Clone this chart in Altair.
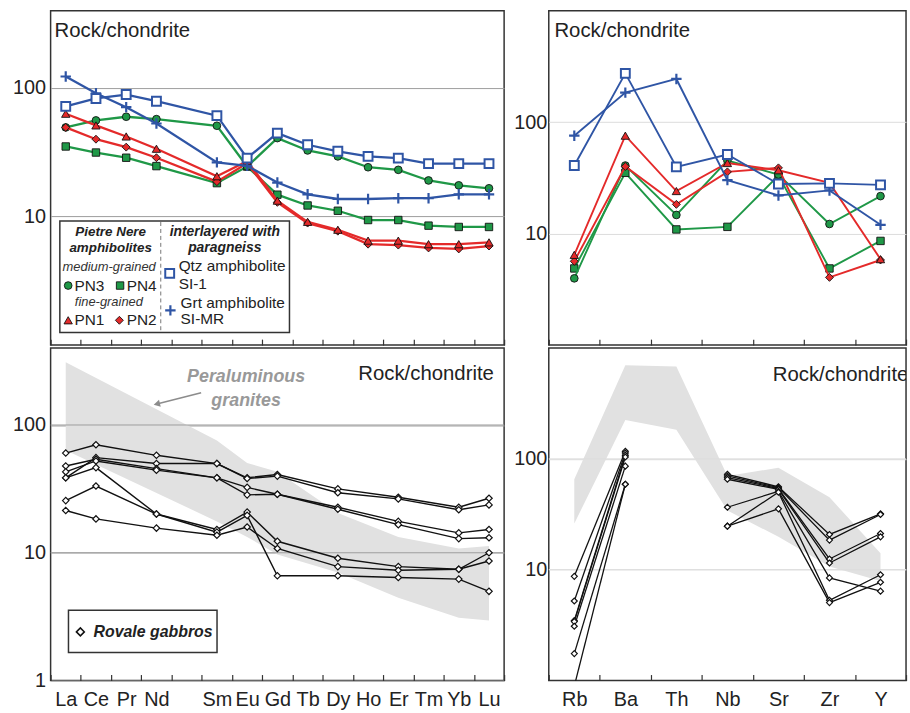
import altair as alt
import pandas as pd

FONT = "Liberation Sans"
RED = "#e42a2a"
GREEN = "#1f9847"
BLUE = "#2f55a5"
INK = "#222222"
BAND_GRAY = "#e1e1e1"

# ---------------- data ----------------
REE = ["La", "Ce", "Pr", "Nd", "Pm", "Sm", "Eu", "Gd", "Tb", "Dy", "Ho", "Er", "Tm", "Yb", "Lu"]
TRACE = ["Rb", "Ba", "Th", "Nb", "Sr", "Zr", "Y"]

# amphibolites, REE (Pm not analysed)
AMPH_REE_EL = ["La", "Ce", "Pr", "Nd", "Sm", "Eu", "Gd", "Tb", "Dy", "Ho", "Er", "Tm", "Yb", "Lu"]
qtz_ree = [72, 83, 89, 79, 61, 28.5, 44.6, 36.2, 32.2, 29.4, 28.5, 25.8, 25.8, 25.8]
grt_ree = [123, 91, 71, 53, 26.4, 24.8, 18.4, 14.9, 13.7, 13.7, 13.9, 13.9, 14.9, 14.9]
pn3_ree = [49.4, 56, 59.8, 57.3, 50.9, 24.5, 40.8, 32.7, 29.4, 24.2, 23.1, 19.1, 17.5, 16.6]
pn4_ree = [35.1, 31.5, 28.7, 24.7, 18.2, 24.5, 14.8, 12.2, 11.1, 9.4, 9.4, 8.5, 8.3, 8.3]
pn1_ree = [63.1, 51.2, 42.0, 33.7, 20.6, 27, 13.3, 9.1, 7.9, 6.5, 6.5, 6.1, 6.1, 6.3]
pn2_ree = [49.4, 40, 34.7, 28.7, 18.7, 26, 12.9, 8.9, 7.7, 6.1, 6.0, 5.7, 5.6, 5.9]

# amphibolites, trace elements
qtz_tr = [40.8, 274, 39.7, 51.2, 27.9, 28.2, 27.4]
grt_tr = [75.6, 184, 244, 30.2, 22.0, 24.4, 12.0]
pn1_tr = [6.45, 75.6, 24.1, 43, 37, 28.5, 5.9]
pn2_tr = [5.65, 40, 18.3, 35.8, 38.9, 4.05, 5.8]
pn3_tr = [3.97, 40.8, 14.7, 45.2, 33.9, 12.2, 21.7]
pn4_tr = [4.87, 35.1, 10.9, 11.5, 33.2, 4.87, 8.6]

# Rovale gabbros, REE
GAB_REE_EL = ["La", "Ce", "Nd", "Sm", "Eu", "Gd", "Dy", "Er", "Yb", "Lu"]
gab_ree = [
    [60.3, 70.0, 57.9, 49.9, 38.6, 41.0, 31.6, 27.2, 22.7, 26.7],
    [38.6, 55.5, 49.9, 49.9, 38.1, 39.8, 29.5, 26.4, 21.7, 23.7],
    [47.8, 53.9, 45.6, 38.6, 32.5, 28.7, 22.7, 17.6, 14.3, 15.2],
    [43.0, 52.3, 44.3, 38.6, 28.4, 28.7, 21.9, 16.6, 12.9, 13.1],
    [38.6, 46.4, 20.1, 15.2, 20.8, 12.3, 9.05, 7.79, 7.43, 10.0],
    [25.6, 33.3, 20.1, 14.5, 19.6, 6.6, 6.6, 6.4, 6.22, 4.99],
    [21.4, 18.4, 15.6, 13.7, 15.9, 10.8, 7.79, 7.30, 7.43, 8.62],
]

# Rovale gabbros, trace elements (Th not analysed)
GAB_TR_EL = ["Rb", "Ba", "Nb", "Sr", "Zr", "Y"]
gab_tr = [
    [8.71, 117, 72.6, 56, 20.8, 31.9],
    [5.22, 113, 70.1, 55, 18.5, 31.5],
    [3.47, 108, 67.8, 54, 12.5, 21.2],
    [3.40, 104, 65.5, 53, 11.5, 19.8],
    [3.09, 86, 36.6, 51, 8.43, 6.4],
    [1.75, 59, 24.7, 50, 5.3, 9.0],
    [0.89, 59, 24.7, 35.4, 5.05, 7.7],
]

# peraluminous granites field
GRAN_REE_EL = ["La", "Sm", "Eu", "Gd", "Dy", "Er", "Yb", "Lu"]
gran_ree_hi = [310, 75.7, 50.5, 43, 20.5, 13.3, 10.8, 11.3]
gran_ree_lo = [63.3, 17.6, 13.3, 9.7, 7.0, 4.45, 3.1, 2.95]
gran_tr_hi = [65.6, 701, 683, 70, 83.2, 45, 14.1]
gran_tr_lo = [26.1, 224, 183, 34.2, 19.8, 10.7, 7.9]

AMPH_NAMES = ["PN4", "PN3", "PN2", "PN1", "Grt amphibolite SI-MR", "Qtz amphibolite SI-1"]
AMPH_REE = [pn4_ree, pn3_ree, pn2_ree, pn1_ree, grt_ree, qtz_ree]
AMPH_TR = [pn4_tr, pn3_tr, pn2_tr, pn1_tr, grt_tr, qtz_tr]

# ---------------- styles ----------------
PLUS = "M-1,0L1,0M0,-1L0,1"
STYLE = {
    "PN4": dict(color=GREEN, shape="square", size=56, fill=GREEN, stroke="#111", sw=0.9),
    "PN3": dict(color=GREEN, shape="circle", size=60, fill=GREEN, stroke="#111", sw=0.9),
    "PN2": dict(color=RED, shape="diamond", size=64, fill=RED, stroke="#111", sw=0.9),
    "PN1": dict(color=RED, shape="triangle-up", size=70, fill=RED, stroke="#111", sw=0.9),
    "Grt amphibolite SI-MR": dict(color=BLUE, shape=PLUS, size=110, fill=None, stroke=BLUE, sw=2.2),
    "Qtz amphibolite SI-1": dict(color=BLUE, shape="square", size=80, fill="white", stroke=BLUE, sw=2.0),
}
GAB_STYLE = dict(shape="diamond", size=42, fill="white", stroke="#111", sw=1.2)

LW, LH = 457, 337
RW = 360
LH2 = 335


def long_df(name, elements, values, order, seg_split=None):
    rows = []
    for e, v in zip(elements, values):
        seg = 0
        if seg_split is not None and e not in seg_split:
            seg = 1
        rows.append(dict(sample=name, el=e, value=v, idx=order.index(e), seg=seg))
    return pd.DataFrame(rows)


def xenc(domain, bottom, show_axis=True):
    ax = dict(tickBand="extent", domain=False, grid=False, ticks=True, tickSize=6,
              offset=-6, tickColor="#333333", tickWidth=1.2, title=None)
    if bottom:
        ax.update(labels=True, labelFontSize=20, labelFont=FONT,
                  labelColor=INK, labelPadding=9, labelAngle=0, labelOverlap=False,
                  labelExpr="datum.label == 'Pm' ? '' : datum.label")
    else:
        ax.update(labels=False)
    return alt.X("el:N", sort=domain,
                 scale=alt.Scale(type="band", domain=domain, paddingInner=0, paddingOuter=0),
                 axis=alt.Axis(**ax) if show_axis else None, title=None)


def yenc(field, dom, vals, grid_color, pad, ext):
    return alt.Y(f"{field}:Q",
                 scale=alt.Scale(type="log", domain=dom, nice=False),
                 axis=alt.Axis(values=vals, format=".0f", grid=True, gridColor=grid_color,
                               gridWidth=1, domain=False, ticks=False, labelFontSize=20,
                               labelFont=FONT, labelColor=INK, labelPadding=pad,
                               minExtent=ext, maxExtent=ext, title=None),
                 title=None)


def point_kw(st):
    kw = dict(shape=st["shape"], size=st["size"], opacity=1, strokeWidth=st["sw"])
    if st["fill"] is None:
        kw.update(filled=False, stroke=st["stroke"])
    else:
        kw.update(filled=True, fill=st["fill"], stroke=st["stroke"])
    return kw


ONE = pd.DataFrame({"a": [0]})


def txt(s, x, y, size, style="normal", weight="normal", align="left", color=INK, clip=False):
    return alt.Chart(ONE).mark_text(
        text=s, font=FONT, fontSize=size, fontStyle=style, fontWeight=weight,
        align=align, baseline="alphabetic", color=color, clip=clip
    ).encode(x=alt.value(x), y=alt.value(y))


def sym(st, x, y):
    return alt.Chart(ONE).mark_point(**point_kw(st)).encode(x=alt.value(x), y=alt.value(y))


# ---------------- top-left: amphibolites REE ----------------
X_TL = xenc(REE, False)
Y_TL = yenc("value", [1, 400], [10, 100], "#9d9d9d", 5, 45)
tl_layers = []
for name, vals in zip(AMPH_NAMES, AMPH_REE):
    st = STYLE[name]
    d = long_df(name, AMPH_REE_EL, vals, REE)
    tl_layers.append(alt.Chart(d).mark_line(color=st["color"], strokeWidth=2.3).encode(
        x=X_TL, y=Y_TL, order="idx:Q"))
    tl_layers.append(alt.Chart(d).mark_point(**point_kw(st)).encode(x=X_TL, y=Y_TL))

tl_layers.append(txt("Rock/chondrite", 4, 27, 20.5))
# legend
tl_layers.append(alt.Chart(ONE).mark_rect(fill="white", stroke="#333333", strokeWidth=1.5).encode(
    x=alt.value(9.3), x2=alt.value(240.7), y=alt.value(212), y2=alt.value(324.3)))
tl_layers.append(alt.Chart(ONE).mark_rule(color="#777777", strokeWidth=1, strokeDash=[4, 3]).encode(
    x=alt.value(111), y=alt.value(213), y2=alt.value(323.5)))
tl_layers += [
    txt("Pietre Nere", 60.5, 227.5, 13.5, "italic", "bold", "center"),
    txt("amphibolites", 60.5, 243, 13.5, "italic", "bold", "center"),
    txt("interlayered with", 175.5, 227.5, 14, "italic", "bold", "center"),
    txt("paragneiss", 175.5, 243, 14, "italic", "bold", "center"),
    txt("medium-grained", 59, 262.7, 13, "italic", "normal", "center", "#333333"),
    txt("fine-grained", 58.7, 298, 13, "italic", "normal", "center", "#333333"),
    txt("PN3", 24, 282, 15.5), txt("PN4", 76.7, 282, 15.5),
    txt("PN1", 24, 317, 15.5), txt("PN2", 76.7, 317, 15.5),
    txt("Qtz amphibolite", 129, 262, 15.5), txt("SI-1", 129, 280.3, 15.5),
    txt("Grt amphibolite", 131, 299.3, 15.5), txt("SI-MR", 131, 315.3, 15.5),
    sym(STYLE["PN3"], 17.7, 277), sym(STYLE["PN4"], 70, 277),
    sym(STYLE["PN1"], 17.7, 312), sym(STYLE["PN2"], 69.3, 312),
    sym(STYLE["Qtz amphibolite SI-1"], 120, 264.7),
    sym(STYLE["Grt amphibolite SI-MR"], 120.7, 302),
]
TL = alt.layer(*tl_layers).properties(width=LW, height=LH)

# ---------------- bottom-left: gabbros REE ----------------
X_BL = xenc(REE, True)
Y_BL = yenc("value", [1, 400], [1, 10, 100], "#9d9d9d", 5, 45)
bl_layers = []
band_ree = pd.DataFrame({"el": GRAN_REE_EL, "hi": gran_ree_hi, "lo": gran_ree_lo})
bl_layers.append(alt.Chart(band_ree).mark_area(color=BAND_GRAY, opacity=1).encode(
    x=X_BL, y=yenc("hi", [1, 400], [1, 10, 100], "#9d9d9d", 5, 45), y2="lo:Q"))
bl_layers.append(alt.Chart(pd.DataFrame({"value": [10, 100]})).mark_rule(
    color="#9d9d9d", strokeWidth=1).encode(y=Y_BL))
gab_df = pd.concat([long_df(f"G{i+1}", GAB_REE_EL, v, REE) for i, v in enumerate(gab_ree)])
bl_layers.append(alt.Chart(gab_df).mark_line(color="#111111", strokeWidth=1.4).encode(
    x=X_BL, y=Y_BL, detail="sample:N", order="idx:Q"))
bl_layers.append(alt.Chart(gab_df).mark_point(**point_kw(GAB_STYLE)).encode(x=X_BL, y=Y_BL))
bl_layers += [
    txt("Rock/chondrite", 446.7, 31.7, 20.5, align="right"),
    txt("Peraluminous", 197, 34.5, 18, "italic", "bold", "center", "#999999"),
    txt("granites", 197, 58, 18, "italic", "bold", "center", "#999999"),
    alt.Chart(ONE).mark_rule(color="#8c8c8c", strokeWidth=1.5).encode(
        x=alt.value(151.7), y=alt.value(45), x2=alt.value(109), y2=alt.value(55.9)),
    alt.Chart(ONE).mark_point(shape="triangle-up", filled=True, color="#8c8c8c", size=55,
                              angle=256, opacity=1).encode(x=alt.value(107), y=alt.value(56.4)),
    alt.Chart(ONE).mark_rect(fill="white", stroke="#333333", strokeWidth=1.5).encode(
        x=alt.value(18), x2=alt.value(167.7), y=alt.value(264.3), y2=alt.value(306.7)),
    sym(dict(GAB_STYLE, size=64, sw=1.5), 30, 286),
    txt("Rovale gabbros", 43.3, 291.5, 16, "italic", "bold"),
]
BL = alt.layer(*bl_layers).properties(width=LW, height=LH2)

# ---------------- top-right: amphibolites trace ----------------
X_TR = xenc(TRACE, False)
Y_TR = yenc("value", [1, 1000], [10, 100], "#dcdcdc", 2, 34)
tr_layers = []
for name, vals in zip(AMPH_NAMES, AMPH_TR):
    st = STYLE[name]
    d = long_df(name, TRACE, vals, TRACE)
    tr_layers.append(alt.Chart(d).mark_line(color=st["color"], strokeWidth=1.9).encode(
        x=X_TR, y=Y_TR, order="idx:Q"))
    tr_layers.append(alt.Chart(d).mark_point(**point_kw(st)).encode(x=X_TR, y=Y_TR))
tr_layers.append(txt("Rock/chondrite", 5.7, 27, 20.5))
TR = alt.layer(*tr_layers).properties(width=RW, height=LH)

# ---------------- bottom-right: gabbros trace ----------------
X_BR = xenc(TRACE, True)
X_BR_NOAX = xenc(TRACE, True, show_axis=False)
Y_BR = yenc("value", [1, 1000], [10, 100], "#dcdcdc", 2, 34)
br_layers = []
band_tr = pd.DataFrame({"pos": list(range(len(TRACE))), "hi": gran_tr_hi, "lo": gran_tr_lo})
br_layers.append(alt.Chart(band_tr).mark_area(color=BAND_GRAY, opacity=1).encode(
    x=alt.X("pos:Q", scale=alt.Scale(domain=[-0.5, len(TRACE) - 0.5], nice=False, zero=False),
            axis=None),
    y=yenc("hi", [1, 1000], [10, 100], "#dcdcdc", 2, 34), y2="lo:Q"))
br_layers.append(alt.Chart(pd.DataFrame({"value": [10, 100]})).mark_rule(
    color="#dcdcdc", strokeWidth=1).encode(y=Y_BR))
gtr_df = pd.concat([long_df(f"G{i+1}", GAB_TR_EL, v, TRACE, seg_split=["Rb", "Ba"])
                    for i, v in enumerate(gab_tr)])
br_layers.append(alt.Chart(gtr_df).mark_line(color="#111111", strokeWidth=1.3, clip=True).encode(
    x=X_BR, y=Y_BR, detail=["sample:N", "seg:N"], order="idx:Q"))
br_layers.append(alt.Chart(gtr_df).mark_point(clip=True, **point_kw(dict(GAB_STYLE, size=36))).encode(
    x=X_BR_NOAX, y=Y_BR))
br_layers.append(txt("Rock/chondrite", 225.7, 33.3, 20.5, clip=True))
BR = alt.layer(*br_layers).resolve_scale(x="independent").properties(width=RW, height=LH2)

left = alt.vconcat(TL, BL, spacing=0)
right = alt.vconcat(TR, BR, spacing=0)
chart = alt.hconcat(left, right, spacing=6).properties(
    padding={"left": 5, "top": 7, "right": 2, "bottom": 2}
).configure_view(stroke="#333333", strokeWidth=1.5)

chart.save("out.html", embed_options={"renderer": "svg", "actions": False})
